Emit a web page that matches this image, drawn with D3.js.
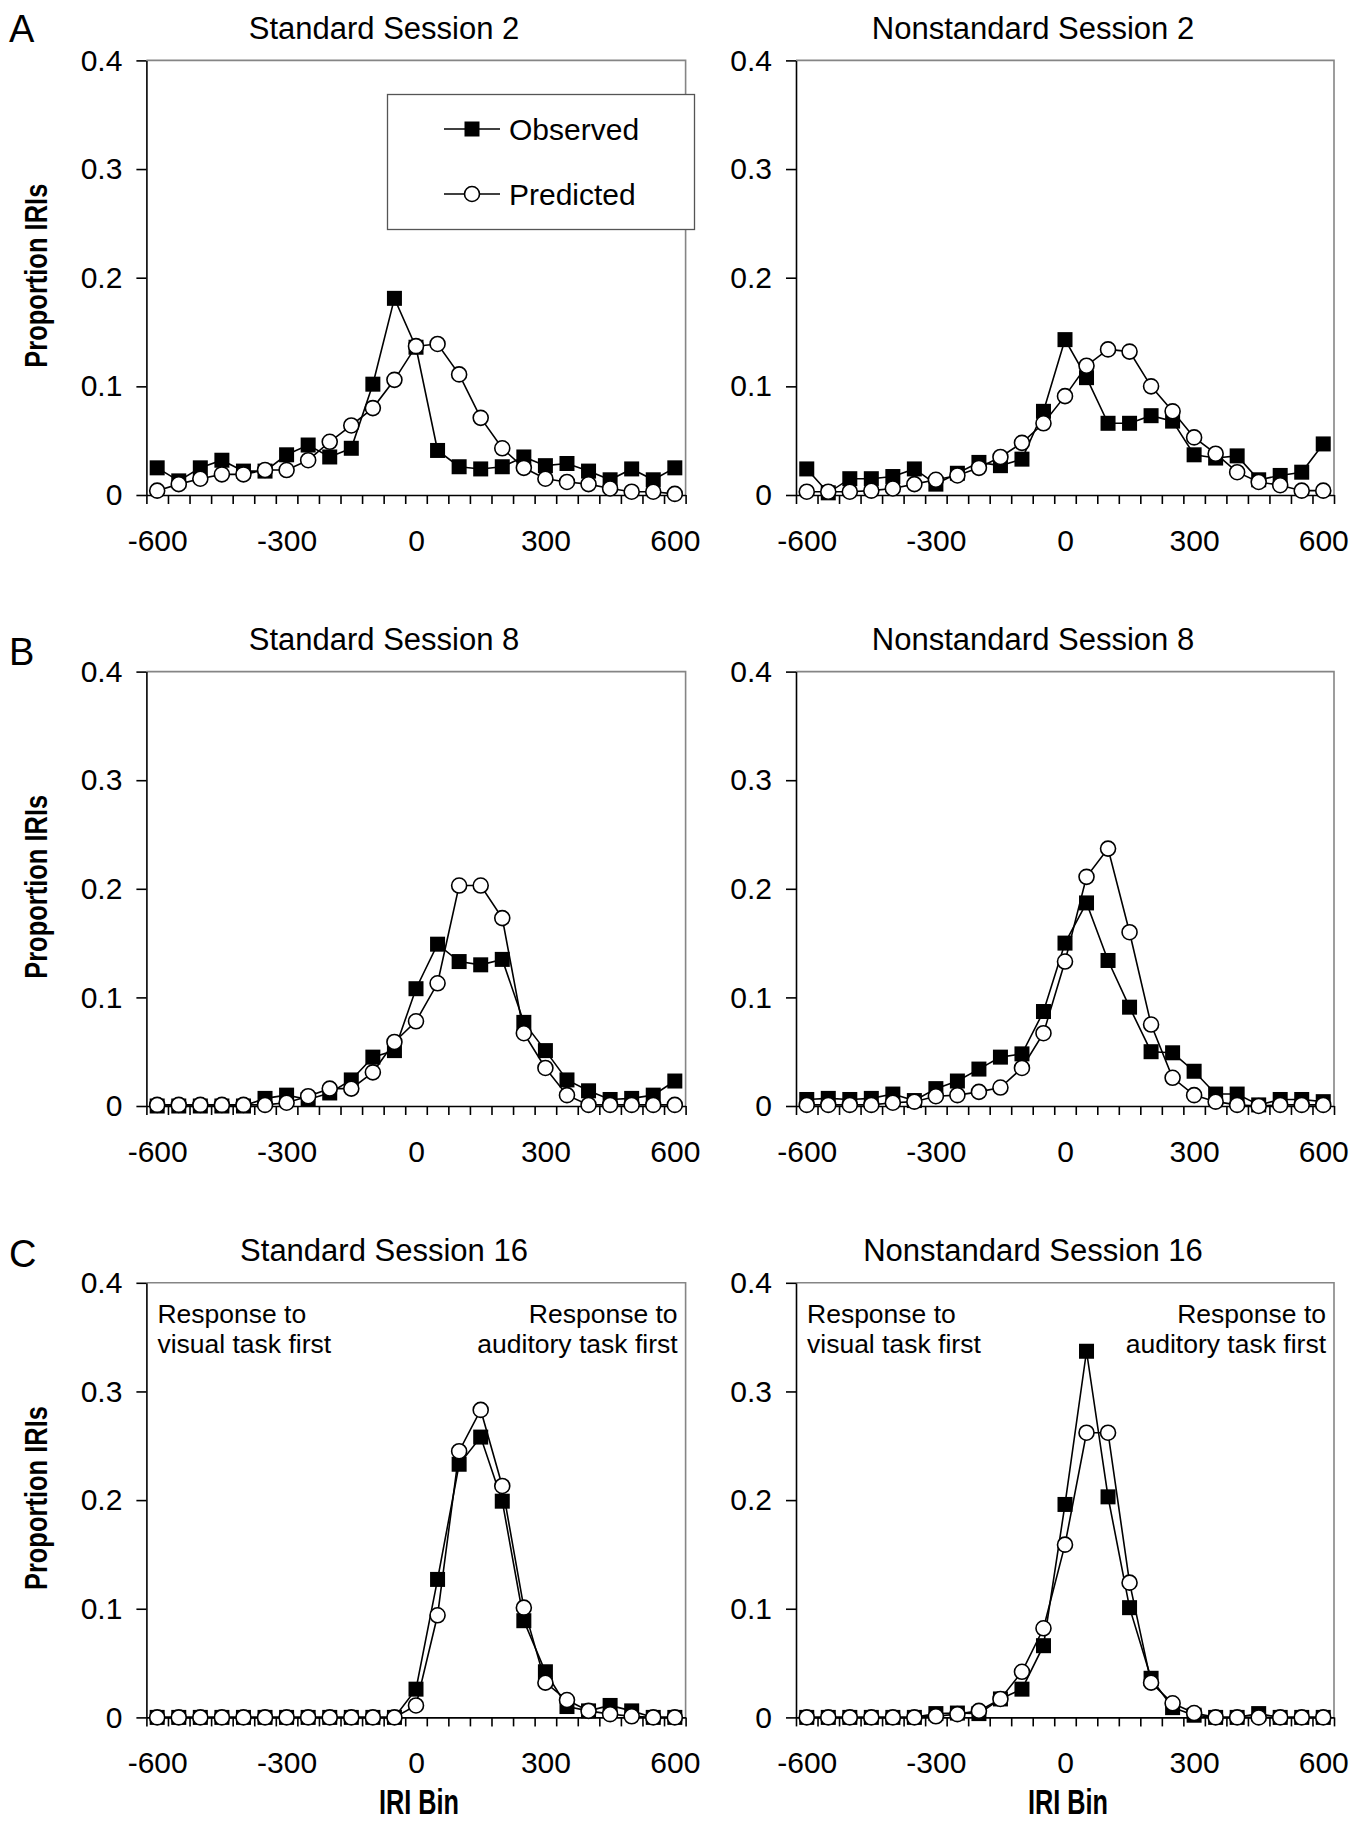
<!DOCTYPE html>
<html><head><meta charset="utf-8">
<script src="https://cdn.jsdelivr.net/npm/d3@7"></script>
<style>body{margin:0;background:#fff}</style>
</head><body>
<svg id="fig" width="1370" height="1822"></svg>
<script>
// ---------- data ----------
const bins = [-600,-550,-500,-450,-400,-350,-300,-250,-200,-150,-100,-50,0,50,100,150,200,250,300,350,400,450,500,550,600];
const xTickLabels = [-600,-300,0,300,600];
const yTicks = [0,0.1,0.2,0.3,0.4];
const seriesNames = ["Observed","Predicted"];
const panelTitles = ["Standard Session 2","Nonstandard Session 2","Standard Session 8","Nonstandard Session 8","Standard Session 16","Nonstandard Session 16"];
const rowLetters = ["A","B","C"];

const obsStd2  = [0.025,0.013,0.025,0.032,0.022,0.022,0.037,0.046,0.035,0.043,0.102,0.181,0.136,0.041,0.026,0.024,0.026,0.035,0.027,0.029,0.022,0.014,0.024,0.014,0.025];
const predStd2 = [0.004,0.010,0.015,0.019,0.019,0.023,0.023,0.032,0.049,0.064,0.080,0.106,0.137,0.139,0.111,0.071,0.043,0.025,0.015,0.012,0.010,0.006,0.003,0.003,0.001];
const obsNon2  = [0.024,0.002,0.015,0.015,0.017,0.024,0.010,0.020,0.030,0.027,0.033,0.077,0.143,0.108,0.066,0.066,0.073,0.068,0.037,0.034,0.036,0.014,0.018,0.021,0.047];
const predNon2 = [0.003,0.003,0.003,0.004,0.006,0.010,0.014,0.018,0.025,0.035,0.048,0.066,0.091,0.119,0.134,0.132,0.100,0.077,0.053,0.038,0.021,0.012,0.009,0.004,0.004];
const obsStd8  = [0,0,0,0,0,0.007,0.010,0.006,0.012,0.024,0.045,0.051,0.108,0.149,0.133,0.130,0.135,0.077,0.051,0.024,0.014,0.006,0.007,0.010,0.023];
const predStd8 = [0.001,0.001,0.001,0.001,0.001,0.001,0.003,0.009,0.016,0.016,0.031,0.059,0.078,0.113,0.203,0.203,0.173,0.067,0.035,0.010,0.001,0.001,0.001,0.001,0.001];
const obsNon8  = [0.006,0.007,0.006,0.007,0.011,0.005,0.016,0.023,0.034,0.045,0.048,0.087,0.150,0.187,0.134,0.091,0.050,0.049,0.032,0.011,0.011,0.001,0.006,0.006,0.004];
const predNon8 = [0.001,0.001,0.001,0.001,0.003,0.004,0.009,0.010,0.013,0.017,0.035,0.067,0.133,0.211,0.237,0.160,0.075,0.026,0.010,0.004,0.001,0.000,0.001,0.001,0.001];
const obsStd16  = [0,0,0,0,0,0,0,0,0,0,0,0,0.026,0.127,0.233,0.258,0.199,0.089,0.042,0.010,0.006,0.011,0.006,0,0];
const predStd16 = [0,0,0,0,0,0,0,0,0,0,0,0,0.011,0.094,0.245,0.283,0.213,0.101,0.032,0.016,0.006,0.003,0.001,0,0];
const obsNon16  = [0,0,0,0,0,0,0.0035,0.004,0.0035,0.017,0.026,0.066,0.196,0.337,0.203,0.101,0.036,0.009,0.002,0,0,0.0035,0,0,0];
const predNon16 = [0,0,0,0,0,0,0.001,0.003,0.006,0.017,0.042,0.082,0.159,0.262,0.262,0.124,0.032,0.013,0.004,0,0,0,0,0,0];

const panelData = [[obsStd2,predStd2],[obsNon2,predNon2],[obsStd8,predStd8],[obsNon8,predNon8],[obsStd16,predStd16],[obsNon16,predNon16]];
const annotLeft = ["Response to","visual task first"];
const annotRight = ["Response to","auditory task first"];

// ---------- layout ----------
const FONT = "'Liberation Sans', Arial, Helvetica, sans-serif";
const cols = [{x0:146.4,x1:685.6},{x0:796,x1:1334}];
const rows = [{y0:60.4,y1:495},{y0:671.6,y1:1106},{y0:1282.8,y1:1717.4}];
const letterBaselines = [42,665,1267];
const SQ = 15, CR = 7.5, SW = 1.6;
const svg = d3.select("#fig").style("font-family", FONT);

rowLetters.forEach((L,i)=>{
  svg.append("text").attr("x",9).attr("y",letterBaselines[i]).attr("font-size",38).attr("fill","#000").text(L);
});

panelTitles.forEach((title, pi) => {
  const c = cols[pi % 2], r = rows[Math.floor(pi / 2)];
  const x = d3.scaleLinear().domain([-625, 625]).range([c.x0, c.x1]);
  const y = d3.scaleLinear().domain([0, 0.4]).range([r.y1, r.y0]);
  const g = svg.append("g");

  // title
  g.append("text").attr("x", (c.x0 + c.x1) / 2 - 32).attr("y", r.y0 - 21.5)
    .attr("text-anchor","middle").attr("font-size",31).text(title);

  // plot-area border (top & right, grey)
  g.append("path").attr("d", `M${c.x0},${r.y0}H${c.x1}V${r.y1}`)
    .attr("fill","none").attr("stroke","#858585").attr("stroke-width",SW);

  // y axis
  const ya = g.append("g").attr("transform",`translate(${c.x0},0)`)
    .call(d3.axisLeft(y).tickValues(yTicks).tickSize(10).tickSizeOuter(0).tickPadding(14)
      .tickFormat(d => d === 0 ? "0" : d3.format(".1f")(d)));
  ya.selectAll("text").attr("font-size",30).attr("font-family",FONT).attr("fill","#000");

  // x axis: boundary ticks between bins
  const boundaries = bins.map(b => b - 25).concat([bins[bins.length - 1] + 25]);
  const xa = g.append("g").attr("transform",`translate(0,${r.y1})`)
    .call(d3.axisBottom(x).tickValues(boundaries).tickSize(9).tickSizeOuter(0).tickFormat(""));
  const xl = g.append("g").attr("transform",`translate(0,${r.y1})`)
    .call(d3.axisBottom(x).tickValues(xTickLabels).tickSize(0).tickFormat(d => String(d)));
  xl.select(".domain").remove();
  xl.selectAll("text").attr("y",56).attr("dy",null).attr("font-size",30).attr("font-family",FONT).attr("fill","#000");

  [ya, xa].forEach(a => {
    a.select(".domain").attr("stroke","#000").attr("stroke-width",SW);
    a.selectAll(".tick line").attr("stroke","#000").attr("stroke-width",SW);
  });

  // series
  const line = d3.line().x((d,i) => x(bins[i])).y(d => y(d));
  const [obs, pred] = panelData[pi];
  // observed
  g.append("path").datum(obs).attr("d", line).attr("fill","none").attr("stroke","#000").attr("stroke-width",SW);
  g.selectAll(".sq").data(obs).enter().append("rect")
    .attr("x",(d,i)=>x(bins[i]) - SQ/2).attr("y",d=>y(d) - SQ/2).attr("width",SQ).attr("height",SQ)
    .attr("fill","#000");
  // predicted
  g.append("path").datum(pred).attr("d", line).attr("fill","none").attr("stroke","#000").attr("stroke-width",SW);
  g.selectAll(".ci").data(pred).enter().append("circle")
    .attr("cx",(d,i)=>x(bins[i])).attr("cy",d=>y(d)).attr("r",CR)
    .attr("fill","#fff").attr("stroke","#000").attr("stroke-width",SW);

  // annotations (row C)
  if (Math.floor(pi / 2) === 2) {
    annotLeft.forEach((t,k)=>{
      g.append("text").attr("x", c.x0 + 11).attr("y", r.y0 + 40 + k * 30).attr("font-size",26.5).text(t);
    });
    annotRight.forEach((t,k)=>{
      g.append("text").attr("x", c.x1 - 8).attr("y", r.y0 + 40 + k * 30).attr("text-anchor","end").attr("font-size",26.5).text(t);
    });
    // x-axis title
    g.append("text").attr("x",(c.x0 + c.x1) / 2 + 3).attr("y",1814).attr("text-anchor","middle")
      .attr("font-size",35).attr("font-weight","bold").attr("textLength",80).attr("lengthAdjust","spacingAndGlyphs")
      .text("IRI Bin");
  }

  // y-axis title (left column)
  if (pi % 2 === 0) {
    const cy = (r.y0 + r.y1) / 2 - 2;
    svg.append("text").attr("transform",`translate(47,${cy}) rotate(-90)`).attr("text-anchor","middle")
      .attr("font-size",32).attr("font-weight","bold").attr("textLength",184).attr("lengthAdjust","spacingAndGlyphs")
      .text("Proportion IRIs");
  }

  // legend (first panel)
  if (pi === 0) {
    const lg = g.append("g");
    lg.append("rect").attr("x",387.5).attr("y",94.5).attr("width",307).attr("height",135)
      .attr("fill","#fff").attr("stroke","#555").attr("stroke-width",1.3);
    const rowsY = [129, 194];
    seriesNames.forEach((name, k) => {
      const yy = rowsY[k];
      lg.append("line").attr("x1",444).attr("x2",500).attr("y1",yy).attr("y2",yy).attr("stroke","#000").attr("stroke-width",SW);
      if (k === 0) {
        lg.append("rect").attr("x",472 - SQ/2).attr("y",yy - SQ/2).attr("width",SQ).attr("height",SQ).attr("fill","#000");
      } else {
        lg.append("circle").attr("cx",472).attr("cy",yy).attr("r",CR).attr("fill","#fff").attr("stroke","#000").attr("stroke-width",SW);
      }
      lg.append("text").attr("x",509).attr("y",yy + 10.5).attr("font-size",30).text(name);
    });
  }
});
</script>
</body></html>
